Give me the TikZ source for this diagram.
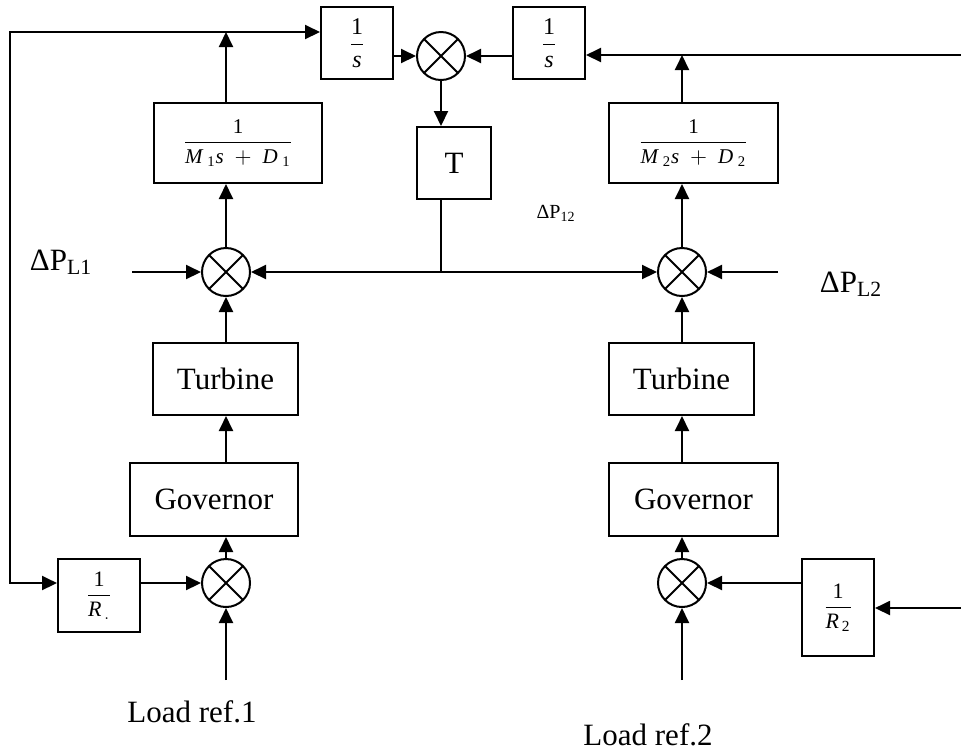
\documentclass[tikz,border=0pt]{standalone}
\usepackage{amsmath}
\usepackage{fontspec}
\setmainfont{Liberation Serif}
\usetikzlibrary{arrows.meta, calc}

\begin{document}
\begin{tikzpicture}[
  x=0.5pt, y=-0.5pt,
  >={Triangle[length=7.5pt, width=7pt]},
  line width=1pt,
  every node/.style={font=\fontsize{15.5}{18}\selectfont},
  blk/.style={draw, inner sep=0pt},
  sumj/.style={circle, draw, minimum size=24pt, inner sep=0pt,
    path picture={\draw (path picture bounding box.north west) -- (path picture bounding box.south east)
      (path picture bounding box.north east) -- (path picture bounding box.south west);}},
  bigfrac/.style={font=\fontsize{12}{14}\selectfont},
  midfrac/.style={font=\fontsize{11}{13}\selectfont},
  smallfrac/.style={font=\fontsize{10.5}{12}\selectfont}
]
\useasboundingbox (0,0) rectangle (961,752);

\node[blk, bigfrac, minimum width=36pt, minimum height=36pt] (intA) at (357,43) {$\dfrac{\textrm{1}}{\textit{s}}$};
\node[sumj] (sumT) at (441,56) {};
\node[blk, bigfrac, minimum width=36pt, minimum height=36pt] (intB) at (549,43) {$\dfrac{\textrm{1}}{\textit{s}}$};
\node[blk, minimum width=37pt, minimum height=36pt] (tie) at (454,163) {T};
\node[blk, smallfrac, minimum width=84pt, minimum height=40pt] (m1) at (238,143)
  {$\dfrac{\textrm{1}}{\textit{M}_{\;\textrm{1}}\textit{s}\;+\;\textit{D}_{\;\textrm{1}}}$};
\node[blk, smallfrac, minimum width=84.5pt, minimum height=40pt] (m2) at (693.5,143)
  {$\dfrac{\textrm{1}}{\textit{M}_{\;\textrm{2}}\textit{s}\;+\;\textit{D}_{\;\textrm{2}}}$};
\node[sumj] (sum1) at (226,272) {};
\node[sumj] (sum2) at (682,272) {};
\node[blk, minimum width=72.5pt, minimum height=36pt] (turb1) at (225.5,379) {Turbine};
\node[blk, minimum width=72.5pt, minimum height=36pt] (turb2) at (681.5,379) {Turbine};
\node[blk, minimum width=84pt, minimum height=36.5pt] (gov1) at (214,499.5) {Governor};
\node[blk, minimum width=84.5pt, minimum height=36.5pt] (gov2) at (693.5,499.5) {Governor};
\node[sumj] (sum3) at (226,583) {};
\node[sumj] (sum4) at (682,583) {};
\node[blk, midfrac, minimum width=41pt, minimum height=36.5pt] (r1) at (99,595.5) {$\dfrac{\textrm{1}}{\textit{R}_{\,.}}$};
\node[blk, midfrac, minimum width=36pt, minimum height=48.5pt] (r2) at (838,607.5) {$\dfrac{\textrm{1}}{\textit{R}_{\,\textrm{2}}}$};

\node (dpl1) at (61,262) {ΔP\textsubscript{L1}};
\node (dpl2) at (851,284) {ΔP\textsubscript{L2}};
\node[font=\fontsize{10}{12}\selectfont] (dp12) at (556,213) {ΔP\textsubscript{12}};
\node (ref1) at (192,712) {Load ref.1};
\node (ref2) at (648,735) {Load ref.2};

\coordinate (w1) at (226,32);
\coordinate (cL) at (10,32);
\coordinate (w2) at (682,55);
\coordinate (cR) at (961,55);
\coordinate (cR2) at (961,608);
\coordinate (tj) at (441,272);
\coordinate (l1) at (132,272);
\coordinate (l2) at (778,272);
\coordinate (f1) at (226,680);
\coordinate (f2) at (682,680);

\draw[->] (w1 |- m1.north) -- (w1);
\draw[->] (w1) -- (intA.west |- w1);
\draw[->] (w1) -- (cL) |- (r1.west |- sum3);
\draw[->] (intA.east |- sumT) -- (sumT.west);
\draw[->] (intB.west |- sumT) -- (sumT.east);
\draw[->] (cR) -- (intB.east |- cR);
\draw[->] (w2 |- m2.north) -- (w2);
\draw[->] (sumT.south) -- (sumT |- tie.north);
\draw (sumT |- tie.south) -- (tj);
\draw[->] (tj) -- (sum1.east);
\draw[->] (tj) -- (sum2.west);
\draw[->] (l1) -- (sum1.west);
\draw[->] (l2) -- (sum2.east);
\draw[->] (sum1.north) -- (sum1 |- m1.south);
\draw[->] (sum2.north) -- (sum2 |- m2.south);
\draw[->] (turb1.north -| sum1) -- (sum1.south);
\draw[->] (turb2.north -| sum2) -- (sum2.south);
\draw[->] (gov1.north -| sum1) -- (sum1 |- turb1.south);
\draw[->] (gov2.north -| sum2) -- (sum2 |- turb2.south);
\draw[->] (sum3.north) -- (sum3 |- gov1.south);
\draw[->] (sum4.north) -- (sum4 |- gov2.south);
\draw[->] (r1.east |- sum3) -- (sum3.west);
\draw[->] (r2.west |- sum4) -- (sum4.east);
\draw[->] (cR2) -- (r2.east |- cR2);
\draw[->] (f1) -- (sum3.south);
\draw[->] (f2) -- (sum4.south);
\end{tikzpicture}
\end{document}
